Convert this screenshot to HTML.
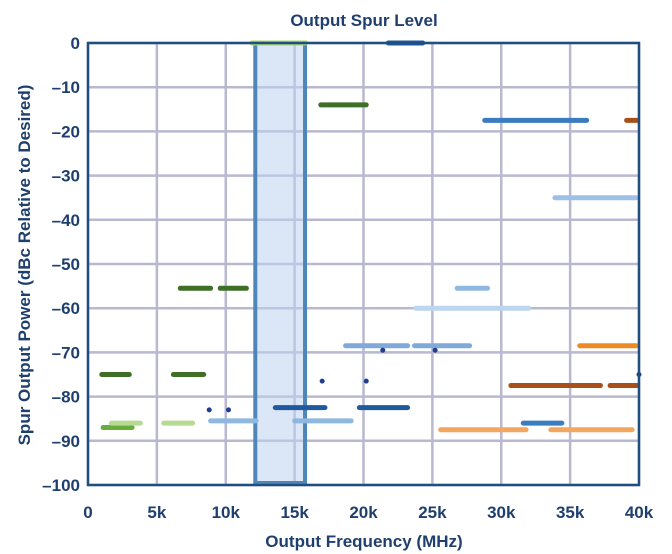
<!DOCTYPE html>
<html><head><meta charset="utf-8"><style>
body{margin:0;background:#fff;width:672px;height:554px;overflow:hidden}
svg{display:block}
text{font-family:"Liberation Sans",Arial,sans-serif;font-weight:bold;fill:#1f3f6e}
</style></head><body>
<svg id="chart" width="672" height="554"></svg>
<script>
const xTicks=[0,5,10,15,20,25,30,35,40];
const xTickLabels=["0","5k","10k","15k","20k","25k","30k","35k","40k"];
const yTicks=[0,-10,-20,-30,-40,-50,-60,-70,-80,-90,-100];
const yTickLabels=["0","-10","-20","-30","-40","-50","-60","-70","-80","-90","-100"];
const segStart=[1.0,6.2,1.1,1.7,5.5,6.7,9.6,16.9,11.9,21.8,8.9,15.0,13.6,19.7,18.7,23.7,23.8,26.8,28.8,33.9,35.7,30.7,37.9,39.1,31.6,25.6,33.6];
const segEnd=[3.0,8.4,3.2,3.8,7.6,8.9,11.5,20.2,15.8,24.3,12.2,19.1,17.2,23.2,23.2,27.7,32.0,29.0,36.2,39.8,39.8,37.2,39.9,39.9,34.4,31.8,39.5];
const segLevel=[-75,-75,-87,-86,-86,-55.5,-55.5,-14,0,0,-85.5,-85.5,-82.5,-82.5,-68.5,-68.5,-60,-55.5,-17.5,-35,-68.5,-77.5,-77.5,-17.5,-86,-87.5,-87.5];
const segColor=["#3f6f26","#3f6f26","#6aac3c","#b7da92","#b7da92","#3f6f26","#3f6f26","#3f6f26","#a9d36e","#1f5a9c","#8fb8e0","#8fb8e0","#1f5a9c","#1f5a9c","#7fa9d8","#7fa9d8","#bcd6ef","#8fb8e0","#3b7cc0","#9dc0e6","#ee8a22","#a9501a","#a9501a","#a9501a","#3b7cc0","#f2a660","#f2a660"];
const dotX=[8.8,10.2,17.0,20.2,21.4,25.2,40.0];
const dotY=[-83,-83,-76.5,-76.5,-69.5,-69.5,-75];
const bandStart=12.0, bandEnd=15.9;

const L=88,R=639,T=43,B=485;
const xs=v=>L+(v/40)*(R-L);
const ys=v=>T+(-v/100)*(B-T);
const svg=document.getElementById('chart');
const NS="http://www.w3.org/2000/svg";
function mk(tag,attrs,parent){const e=document.createElementNS(NS,tag);for(const k in attrs)e.setAttribute(k,attrs[k]);(parent||svg).appendChild(e);return e;}

xTicks.forEach((t,i)=>{
  const g=mk('line',{x1:xs(t),x2:xs(t),y1:T,y2:B,stroke:'#b8b8d0','stroke-width':2.5});
  
  
  const tx=mk('text',{x:xs(t),y:B+33,'text-anchor':'middle','font-size':17});
  tx.textContent=xTickLabels[i];
  
  
});
yTicks.forEach((t,i)=>{
  const g=mk('line',{x1:L,x2:R,y1:ys(t),y2:ys(t),stroke:'#b8b8d0','stroke-width':2.5});
  
  
  const tx=mk('text',{x:L-8,y:ys(t)+6,'text-anchor':'end','font-size':17});
  tx.textContent=yTickLabels[i].replace('-','\u2013');
  
  
});
const band=mk('rect',{x:xs(bandStart)+2,y:T,width:xs(bandEnd)-xs(bandStart)-4,height:B-T-2,fill:'rgba(190,210,240,0.55)',stroke:'#4f86b8','stroke-width':4});


segStart.forEach((s,i)=>{
  const l=mk('line',{x1:xs(s),x2:xs(segEnd[i]),y1:ys(segLevel[i]),y2:ys(segLevel[i]),stroke:segColor[i],'stroke-width':5,'stroke-linecap':'round'});
  
  
});
dotX.forEach((x,i)=>{
  const c=mk('circle',{cx:xs(x),cy:ys(dotY[i]),r:2.5,fill:'#1f3f8e'});
  
  
});
const fr=mk('rect',{x:L,y:T,width:R-L,height:B-T,fill:'none',stroke:'#1f4f80','stroke-width':2.5});


const ti=mk('text',{x:364,y:26,'text-anchor':'middle','font-size':17});
ti.textContent='Output Spur Level';


const xt=mk('text',{x:364,y:547,'text-anchor':'middle','font-size':17});
xt.textContent='Output Frequency (MHz)';


const yt=mk('text',{x:0,y:0,'text-anchor':'middle','font-size':17,transform:'translate(30,265) rotate(-90)'});
yt.textContent='Spur Output Power (dBc Relative to Desired)';


</script>
</body></html>
